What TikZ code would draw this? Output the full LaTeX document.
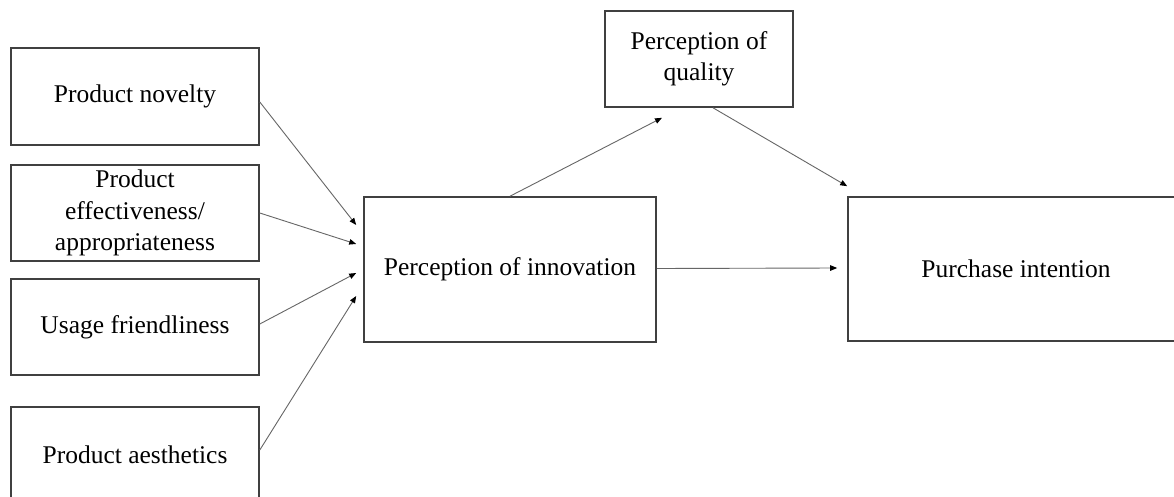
\documentclass[tikz,border=0pt]{standalone}
\usepackage{fontspec}
\setmainfont{Liberation Serif}
\usetikzlibrary{arrows.meta,calc}
\begin{document}
\begin{tikzpicture}[x=1pt,y=-1pt,
  box/.style={draw=black!75, line width=1.6pt, align=center,
    font=\fontsize{25.5}{31.5}\selectfont, inner sep=0pt},
  conn/.style={draw=black!60, line width=0.9pt,
    -{Triangle[length=7pt,width=5.5pt,color=black]}}]
\useasboundingbox[fill=white] (0,0) rectangle (1174,497);
\node[box, minimum width=248pt, minimum height=97pt] (nov) at (135,96.5) {\raisebox{-3pt}{Product novelty}};
\node[box, minimum width=248pt, minimum height=96pt] (eff) at (135,213) {\raisebox{-2pt}{\parbox{240pt}{\centering Product\\effectiveness/\\appropriateness}}};
\node[box, minimum width=248pt, minimum height=96pt] (use) at (135,327) {\raisebox{-3pt}{Usage friendliness}};
\node[box, minimum width=248pt, minimum height=96pt] (aes) at (135,455) {Product aesthetics};
\node[box, minimum width=292pt, minimum height=145pt] (inn) at (510,269.5) {Perception of innovation};
\node[box, minimum width=188pt, minimum height=96pt] (qual) at (699,59) {\raisebox{-3pt}{\parbox{180pt}{\centering Perception of\\quality}}};
\node[box, minimum width=336pt, minimum height=144pt] (pur) at (1016,269) {Purchase intention};
\coordinate (t1) at ($(inn.west)+(-7,-44.5)$);
\coordinate (t2) at ($(inn.west)+(-7,-25.5)$);
\coordinate (t3) at ($(inn.west)+(-7,3.5)$);
\coordinate (t4) at ($(inn.west)+(-7,26.5)$);
\coordinate (tq) at ($(qual.south)+(-37,10)$);
\coordinate (tp) at ($(pur.north west)+(0,-10)$);
\coordinate (tw) at ($(pur.west)+(-10,-1)$);
\draw[conn] ($(nov.east)+(0,5.5)$) -- (t1);
\draw[conn] (eff.east) -- (t2);
\draw[conn] ($(use.east)+(0,-3)$) -- (t3);
\draw[conn] ($(aes.east)+(0,-5)$) -- (t4);
\draw[conn] (inn.north) -- (tq);
\draw[conn] ($(qual.south)+(14,0)$) -- (tp);
\draw[conn] ($(inn.east)+(0,-1)$) -- (tw);
\end{tikzpicture}
\end{document}
